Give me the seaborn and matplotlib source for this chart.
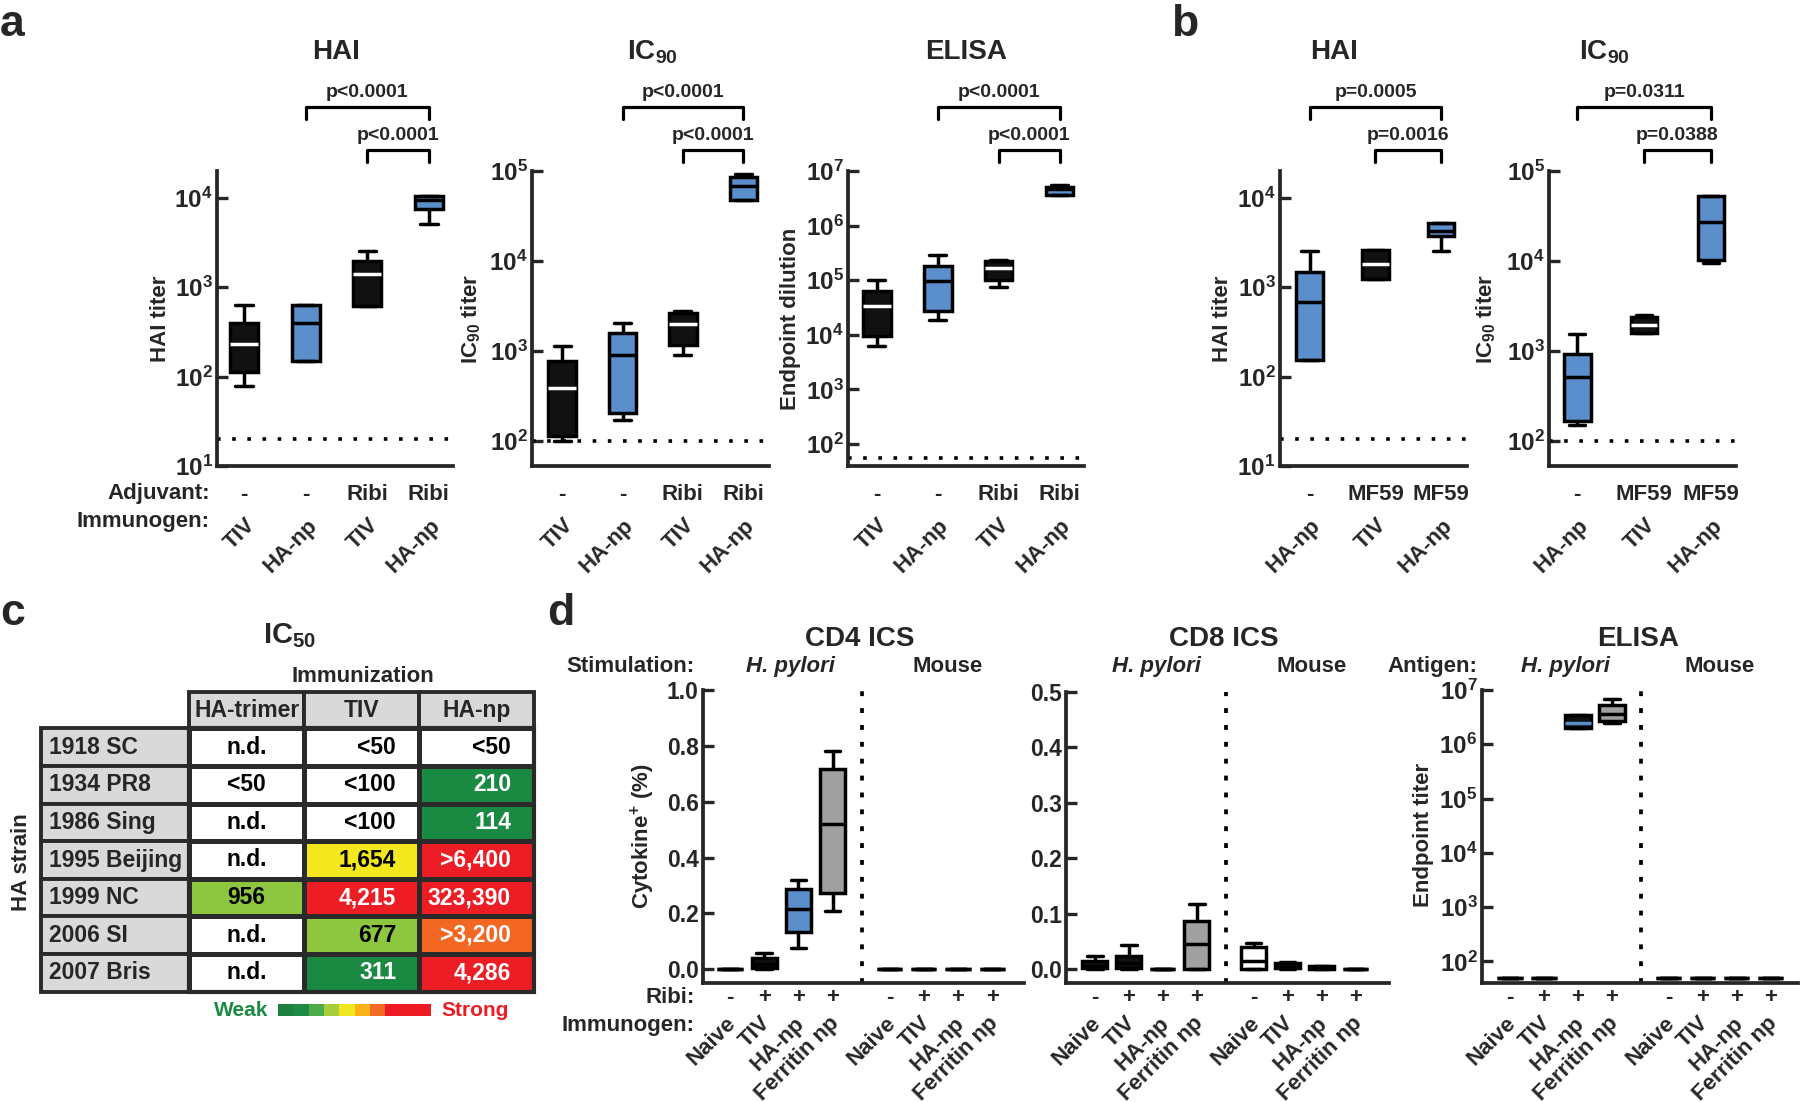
import numpy as np
import pandas as pd
import seaborn as sns
import matplotlib.pyplot as plt
import matplotlib.transforms as mtransforms
from matplotlib.colors import ListedColormap
from matplotlib.patches import Rectangle

sns.set_theme(style="ticks")
plt.rcParams["font.family"] = ["Liberation Sans", "DejaVu Sans"]
plt.rcParams["font.weight"] = "bold"
plt.rcParams["mathtext.fontset"] = "custom"
plt.rcParams["mathtext.rm"] = "Liberation Sans:bold"
plt.rcParams["mathtext.bf"] = "Liberation Sans:bold"
plt.rcParams["mathtext.it"] = "Liberation Sans:bold:italic"

BLACK, BLUE, GRAY = "#111111", "#5b8fcc", "#a0a0a0"

# ---- panel a : box summaries (min, q1, median, q3, max)
a_adjuvant = ["-", "-", "Ribi", "Ribi"]
a_immunogen = ["TIV", "HA-np", "TIV", "HA-np"]
a_fill = [BLACK, BLUE, BLACK, BLUE]
a_median = ["white", "black", "white", "black"]
a_hai = [[78, 112, 232, 403, 630], [150, 150, 403, 640, 640],
         [612, 612, 1400, 1945, 2570], [5140, 7590, 9380, 10480, 10480]]
a_ic90 = [[100, 115, 387, 770, 1150], [173, 204, 900, 1585, 2050],
          [900, 1180, 1990, 2650, 2800], [47200, 47200, 68000, 85600, 93000]]
a_elisa = [[6270, 9400, 33600, 64000, 100000], [18500, 27600, 96000, 183000, 286000],
           [76600, 98900, 166000, 223000, 234000], [3.6e6, 3.6e6, 4.6e6, 5.2e6, 5.6e6]]
a_pvals = ["p<0.0001", "p<0.0001"]

# ---- panel b
b_adjuvant = ["-", "MF59", "MF59"]
b_immunogen = ["HA-np", "TIV", "HA-np"]
b_fill = [BLUE, BLACK, BLUE]
b_median = ["black", "white", "black"]
b_hai = [[154, 154, 682, 1486, 2570], [1240, 1240, 1820, 2620, 2620], [2520, 3720, 4270, 5260, 5260]]
b_ic90 = [[150, 165, 515, 926, 1530], [1570, 1570, 1950, 2400, 2520], [9420, 10300, 27300, 53000, 53000]]
b_hai_p = ["p=0.0005", "p=0.0016"]
b_ic90_p = ["p=0.0311", "p=0.0388"]

# ---- panel c : IC50 table
strains = ["1918 SC", "1934 PR8", "1986 Sing", "1995 Beijing", "1999 NC", "2006 SI", "2007 Bris"]
immunizations = ["HA-trimer", "TIV", "HA-np"]
ic50_trimer = ["n.d.", "<50", "n.d.", "n.d.", "956", "n.d.", "n.d."]
ic50_tiv = ["<50", "<100", "<100", "1,654", "4,215", "677", "311"]
ic50_hanp = ["<50", "210", "114", ">6,400", "323,390", ">3,200", "4,286"]
lvl_trimer = [0, 0, 0, 0, 2, 0, 0]
lvl_tiv = [0, 0, 0, 3, 5, 2, 1]
lvl_hanp = [0, 1, 1, 5, 5, 4, 5]
level_colors = ["#ffffff", "#1a8a43", "#8dc63f", "#f2e81d", "#f26722", "#ec1d25"]
scale_colors = ["#1b7f3d", "#1e8a43", "#4bab4a", "#a7cd3a", "#f0e81e",
                "#fbb117", "#f26b23", "#ed1c24", "#ed1c24", "#ed1c24"]

# ---- panel d
d_immunogen = ["Naive", "TIV", "HA-np", "Ferritin np"] * 2
d_ribi = ["-", "+", "+", "+"] * 2
cd4 = [[0, 0, 0, 0, 0], [0, 0.005, 0.02, 0.039, 0.057], [0.078, 0.134, 0.215, 0.286, 0.319],
       [0.208, 0.274, 0.519, 0.717, 0.783], [0, 0, 0, 0, 0], [0, 0, 0, 0, 0],
       [0, 0, 0, 0, 0], [0, 0, 0, 0, 0]]
cd4_fill = [BLACK, BLACK, BLUE, GRAY, BLACK, BLACK, BLACK, BLACK]
cd8 = [[0, 0.001, 0.006, 0.0137, 0.024], [0, 0.002, 0.01, 0.024, 0.044], [0, 0, 0, 0, 0],
       [0, 0, 0.0445, 0.0865, 0.117], [0, 0, 0.015, 0.04, 0.047], [0, 0.001, 0.004, 0.01, 0.012],
       [0, 0, 0.002, 0.005, 0.006], [0, 0, 0, 0, 0]]
cd8_fill = [BLACK, BLACK, BLACK, GRAY, "white", BLACK, BLACK, BLACK]
elisa_d = [[50] * 5, [50] * 5, [1.97e6, 1.97e6, 2.5e6, 3.47e6, 3.47e6],
           [2.44e6, 2.69e6, 3.6e6, 5.3e6, 6.7e6], [50] * 5, [50] * 5, [50] * 5, [50] * 5]
elisa_d_fill = [BLACK, BLACK, BLACK, GRAY, BLACK, BLACK, BLACK, BLACK]
elisa_d_median = ["black", "black", BLUE, "black", "black", "black", "black", "black"]

W, H = 1800, 1102
fig = plt.figure(figsize=(18, 11.02), dpi=100)


def fx(px):
    return px / W


def fy(py):
    return 1 - py / H


def add_ax(l, r, t, b):
    return fig.add_axes([l / W, 1 - b / H, (r - l) / W, (b - t) / H])


def bt(ax):
    return mtransforms.blended_transform_factory(ax.transData, fig.transFigure)


def boxes(ax, summaries, fills, medians, width, positions, log):
    positions = [float(p) for p in positions]
    df = pd.DataFrame({"pos": np.repeat(positions, 5),
                       "val": np.concatenate([np.asarray(s, float) for s in summaries])})
    sns.boxplot(data=df, x="pos", y="val", hue="pos", palette=dict(zip(positions, fills)),
                native_scale=True, dodge=False, whis=(0, 100), width=width, linewidth=2.5,
                linecolor="black", saturation=1, showfliers=False, legend=False,
                log_scale=(False, log), ax=ax)
    # medians coloured per box, caps about 60% of the box width
    for ln in ax.lines:
        xd = np.asarray(ln.get_xdata(), float)
        yd = np.asarray(ln.get_ydata(), float)
        if len(xd) != 2 or yd[0] != yd[1]:
            continue
        span, cx = abs(xd[1] - xd[0]), xd.mean()
        k = int(np.argmin(np.abs(np.asarray(positions) - cx)))
        if span > 0.95 * width:
            ln.set_color(medians[k])
        elif span > 1e-9:
            ln.set_xdata([cx - 0.31 * width, cx + 0.31 * width])


def style(ax, yticks, labels, xlim, ylim, labelsize):
    sns.despine(ax=ax)
    ax.set_xlim(*xlim)
    ax.set_ylim(*ylim)
    ax.set_xticks([])
    ax.minorticks_off()
    ax.set_yticks(yticks)
    ax.set_yticklabels(labels)
    ax.tick_params(axis="y", direction="in", length=8, width=2.4, labelsize=labelsize, pad=3)
    ax.tick_params(axis="x", length=0)
    ax.set_xlabel("")
    ax.set_ylabel("")
    for s in ("left", "bottom"):
        ax.spines[s].set_linewidth(2.7)
    ax.patch.set_alpha(0)


def logticks(lo, hi):
    t = [10.0 ** e for e in range(lo, hi + 1)]
    return t, [f"$10^{{{e}}}$" for e in range(lo, hi + 1)]


def bracket(ax, i, j, ytop, text):
    tr = bt(ax)
    ax.plot([i, i, j, j], [fy(ytop + 11.5), fy(ytop), fy(ytop), fy(ytop + 11.5)],
            transform=tr, color="black", lw=2.3, clip_on=False)
    ax.text((i + j) / 2, fy(ytop - 10), text, transform=tr, ha="center", va="baseline",
            fontsize=14)


def rows(ax, xs, top_vals, bottom_vals, ytop, ybot, dx, fs=16):
    tr = bt(ax)
    for x, t in zip(xs, top_vals):
        ax.text(x, fy(ytop), t, transform=tr, ha="center", va="center", fontsize=fs)
    rot = mtransforms.offset_copy(tr, fig=fig, x=dx, y=0, units="dots")
    for x, t in zip(xs, bottom_vals):
        ax.text(x, fy(ybot), t, transform=rot, ha="right", va="center", rotation=45,
                rotation_mode="anchor", fontsize=fs)


def ftext(x, y, s, **kw):
    kw.setdefault("fontsize", 16)
    fig.text(fx(x), fy(y), s, **kw)


# ================= panels a and b =================
ab_specs = [
    (a_hai, a_fill, a_median, 20, (217, 453.5), (-0.44, 3.40), (10, 2e4), (1, 4), "HAI", 336,
     "HAI titer", 161, a_pvals, [(1, 3), (2, 3)], a_adjuvant, a_immunogen),
    (a_ic90, a_fill, a_median, 100, (532, 768.6), (-0.5, 3.42), (52.7, 1e5), (2, 5), "IC$_{90}$", 652,
     "IC$_{90}$ titer", 470.7, a_pvals, [(1, 3), (2, 3)], a_adjuvant, a_immunogen),
    (a_elisa, a_fill, a_median, 55, (848, 1084), (-0.47, 3.40), (39.5, 1e7), (2, 7), "ELISA", 966,
     "Endpoint dilution", 790.7, a_pvals, [(1, 3), (2, 3)], a_adjuvant, a_immunogen),
    (b_hai, b_fill, b_median, 20, (1279.7, 1467), (-0.455, 2.39), (10, 2e4), (1, 4), "HAI", 1334,
     "HAI titer", 1222.5, b_hai_p, [(0, 2), (1, 2)], b_adjuvant, b_immunogen),
    (b_ic90, b_fill, b_median, 100, (1549, 1736.5), (-0.42, 2.38), (52.7, 1e5), (2, 5), "IC$_{90}$", 1604.7,
     "IC$_{90}$ titer", 1485.7, b_ic90_p, [(0, 2), (1, 2)], b_adjuvant, b_immunogen),
]

for (data, fill, med, thr, (l, r), xlim, ylim, dec, title, tx, ylab, yx,
     pv, pairs, adj, imm) in ab_specs:
    ax = add_ax(l, r, 171, 466)
    width = 0.455 if len(data) == 4 else 0.4
    boxes(ax, data, fill, med, width, range(len(data)), True)
    ax.axhline(thr, color="black", lw=2.6, ls=(0, (1, 3.2)))
    t, lab = logticks(*dec)
    style(ax, t, lab, xlim, ylim, 17.5)
    ftext(tx, 59, title, ha="center", va="baseline", fontsize=20)
    ftext(yx, 318.5, ylab, ha="center", va="center", rotation=90)
    bracket(ax, pairs[0][0], pairs[0][1], 107, pv[0])
    bracket(ax, pairs[1][0], pairs[1][1], 150, pv[1])
    rows(ax, range(len(data)), adj, imm, 494, 522, 8)

ftext(210, 494, "Adjuvant:", ha="right", va="center")
ftext(210, 521, "Immunogen:", ha="right", va="center")
ftext(0, 35.7, "a", ha="left", va="baseline", fontsize=32)
ftext(1170.7, 35.7, "b", ha="left", va="baseline", fontsize=32)

# ================= panel c : table =================
ax_t = add_ax(189.3, 534, 728.3, 991.7)
lv = np.array([lvl_trimer, lvl_tiv, lvl_hanp]).T
grid = "#2a2a2a"
sns.heatmap(lv, cmap=ListedColormap(level_colors), vmin=-0.5, vmax=len(level_colors) - 0.5,
            cbar=False, linewidths=2.5, linecolor=grid, xticklabels=False, yticklabels=False,
            ax=ax_t)
for j, name in enumerate(immunizations):
    ax_t.add_patch(Rectangle((j, -0.97), 1, 0.97, facecolor="#d9d9d9", edgecolor=grid,
                             lw=2.8, clip_on=False))
    ax_t.text(j + 0.5, -0.485, name, ha="center", va="center", fontsize=16.5)
for i, s in enumerate(strains):
    ax_t.add_patch(Rectangle((-1.29, i), 1.29, 1, facecolor="#d9d9d9", edgecolor=grid,
                             lw=2.8, clip_on=False))
    ax_t.text(-1.22, i + 0.5, s, ha="left", va="center", fontsize=16.5)
ax_t.add_patch(Rectangle((0, 0), 3, len(strains), fill=False, edgecolor=grid, lw=3,
                         clip_on=False))
for j, col in enumerate([ic50_trimer, ic50_tiv, ic50_hanp]):
    for i, s in enumerate(col):
        light = lv[i, j] in (1, 4, 5)
        x, ha = (j + 0.5, "center") if j == 0 else (j + 0.8, "right")
        ax_t.text(x, i + 0.5, s, ha=ha, va="center", fontsize=16.5,
                  color="white" if light else "black")

ax_s = add_ax(278, 431, 1004, 1016)
sns.heatmap(np.arange(len(scale_colors))[None, :], cmap=ListedColormap(scale_colors), cbar=False,
            xticklabels=False, yticklabels=False, ax=ax_s)
ftext(268, 1010, "Weak", color="#1a8a43", ha="right", va="center", fontsize=15)
ftext(441, 1010, "Strong", color="#ed1c24", ha="left", va="center", fontsize=15)
ftext(290, 643, "IC$_{50}$", ha="center", va="baseline", fontsize=21)
ftext(362.5, 681.7, "Immunization", ha="center", va="baseline")
ftext(21.4, 861.7, "HA strain", ha="center", va="center", rotation=90)
ftext(0, 625, "c", ha="left", va="baseline", fontsize=32)

# ================= panel d =================
d_pos = [i + (0.67 if i >= 4 else 0) for i in range(8)]
d_specs = [
    (cd4, cd4_fill, ["black"] * 8, False, (702.7, 1024), 690, (-0.8, 8.6), (-0.047, 1.0),
     [0, 0.2, 0.4, 0.6, 0.8, 1.0], "CD4 ICS", 860, (790, 947.3)),
    (cd8, cd8_fill, ["black"] * 8, False, (1066, 1389), 691.7, (-0.85, 8.65), (-0.0243, 0.5),
     [0, 0.1, 0.2, 0.3, 0.4, 0.5], "CD8 ICS", 1224, (1156, 1311.7)),
    (elisa_d, elisa_d_fill, elisa_d_median, True, (1481.7, 1798), 690, (-0.83, 8.47), (41, 1e7),
     None, "ELISA", 1638.3, (1565, 1720)),
]
for data, fill, med, log, (l, r), top, xlim, ylim, ticks, title, tx, (hx, mx) in d_specs:
    ax = add_ax(l, r, top, 982.5)
    boxes(ax, data, fill, med, 0.74, d_pos, log)
    ax.axvline(3.85, color="black", lw=2.7, ls=(0, (1.3, 3.2)))
    if log:
        t, lab = logticks(2, 7)
        size = 17.5
    else:
        t, lab = ticks, [f"{v:.1f}" for v in ticks]
        size = 16.5
    style(ax, t, lab, xlim, ylim, size)
    ftext(tx, 646.5, title, ha="center", va="baseline", fontsize=20)
    ftext(hx, 666.5, "H. pylori", ha="center", va="center", fontstyle="italic")
    ftext(mx, 666.5, "Mouse", ha="center", va="center")
    rows(ax, d_pos, d_ribi, d_immunogen, 997.3, 1020, 3)

ftext(695, 666.5, "Stimulation:", ha="right", va="center")
ftext(1477, 666.5, "Antigen:", ha="right", va="center")
ftext(695, 997.3, "Ribi:", ha="right", va="center")
ftext(695, 1025, "Immunogen:", ha="right", va="center")
ftext(643.3, 836, "Cytokine$^{+}$ (%)", ha="center", va="center", rotation=90)
ftext(1423.3, 835, "Endpoint titer", ha="center", va="center", rotation=90)
ftext(546.7, 625, "d", ha="left", va="baseline", fontsize=32)

fig.savefig("out.png", dpi=100, facecolor="white")
